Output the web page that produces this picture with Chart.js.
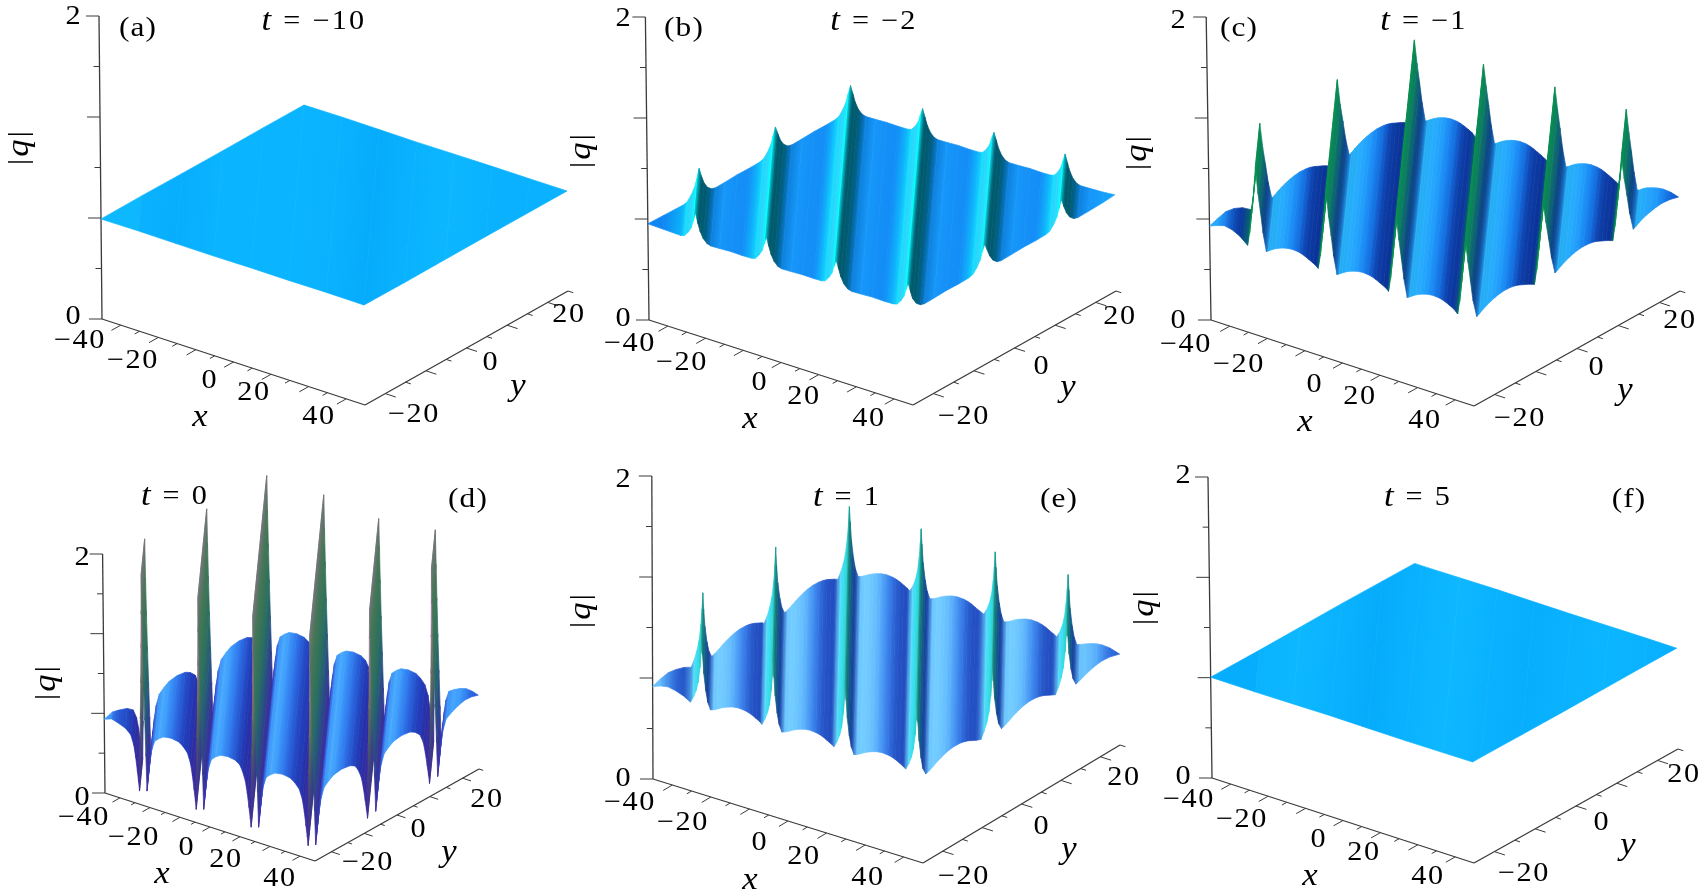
<!DOCTYPE html>
<html>
<head>
<meta charset="utf-8">
<title>|q| surfaces</title>
<script src="https://cdn.jsdelivr.net/npm/chart.js@4"></script>
<style>
  html, body { margin: 0; background: #fff; width: 1701px; height: 896px; overflow: hidden; }
  canvas { position: absolute; }
</style>
</head>
<body>
<script>
// Axis values
const xTicks = [-35, -30, -25, -20, -15, -10, -5, 0, 5, 10, 15, 20, 25, 30, 35];
const yTicks = [-25, -20, -15, -10, -5, 0, 5, 10, 15, 20, 25];
const zTicks = [0, 1 / 3, 2 / 3, 1, 4 / 3, 5 / 3, 2];
const xTickLabels = ['\u221240', '\u221220', '0', '20', '40'];
const yTickLabels = ['\u221220', '0', '20'];
const zTickLabels = ['0', '2'];
const panelTags = ['(a)', '(b)', '(c)', '(d)', '(e)', '(f)'];
const timeLabels = ['\u221210', '\u22122', '\u22121', '0', '1', '5'];

// |q| along s = x + y
const sA = [-60, -50, -40, -30, -20, -10, 0, 10, 20, 30, 40, 50, 60];
const qA = [.66, .662, .66, .659, .661, .66, .662, .66, .658, .66, .661, .66, .66];

const sB = [-60, -56,
  -51.3, -50.3, -49.3, -48.5, -47.9, -47.3, -46.7, -46.1, -45.3, -44.3, -43.3, -41, -38, -35,
  -32.5, -31.5, -30.5, -29.7, -29.1, -28.5, -27.9, -27.3, -26.5, -25.5, -24.5, -22, -19, -16,
  -14, -13, -12, -11.2, -10.6, -10, -9.4, -8.8, -8, -7, -6, -3.5, -.5, 2.5,
  5.1, 6.1, 7.1, 7.9, 8.5, 9.1, 9.7, 10.3, 11.1, 12.1, 13.1, 15.5, 18.5, 21.5,
  24, 25, 26, 26.8, 27.4, 28, 28.6, 29.2, 30, 31, 32, 34.5, 37.5, 40.5,
  42.9, 43.9, 44.9, 45.7, 46.3, 46.9, 47.5, 48.1, 48.9, 49.9, 50.9, 53.5, 57, 60];
const qB = [.635, .632,
  .628, .635, .665, .70, .75, .81, .745, .695, .655, .63, .622, .624, .628, .626,
  .628, .635, .665, .70, .75, .80, .745, .695, .655, .63, .622, .624, .628, .626,
  .628, .635, .665, .70, .75, .795, .745, .695, .655, .63, .622, .624, .628, .626,
  .628, .635, .665, .70, .75, .796, .745, .695, .655, .63, .622, .624, .628, .626,
  .628, .635, .665, .70, .75, .79, .745, .695, .655, .63, .622, .624, .628, .626,
  .628, .635, .665, .70, .75, .80, .745, .695, .655, .63, .622, .624, .628, .635];

const sC = [-60, -58, -56, -54, -52,
  -49.9, -49.3, -48.7, -48.1, -47.5, -46.9, -46.3, -45.7, -44.9, -44.3, -43.5, -42.5, -41.5, -40.5, -39.5, -38.1, -36.5, -35.5, -34.5, -33.5, -32.5, -31.5,
  -31.1, -30.5, -29.9, -29.3, -28.7, -28.1, -27.5, -26.9, -26.1, -25.5, -24.7, -23.7, -22.7, -21.7, -20.7, -19.3, -17.7, -16.7, -15.7, -14.7, -13.7, -12.7,
  -12.4, -11.8, -11.2, -10.6, -10, -9.4, -8.8, -8.2, -7.4, -6.8, -6, -5, -4, -3, -2, -.6, 1, 2, 3, 4, 5,
  6, 6.6, 7.2, 7.8, 8.4, 9, 9.6, 10.2, 11, 11.6, 12.4, 13.4, 14.4, 15.4, 16.4, 17.8, 19.4, 20.4, 21.4, 22.4, 23.4, 24.4,
  25, 25.6, 26.2, 26.8, 27.4, 28, 28.6, 29.2, 30, 30.6, 31.4, 32.4, 33.4, 34.4, 35.4, 36.8, 38.4, 39.4, 40.4, 41.4, 42.4, 43.4,
  44, 44.6, 45.2, 45.8, 46.4, 47, 47.6, 48.2, 49, 49.6, 50.4, 51.5, 53, 54.5, 56, 58, 60];
const qC = [.62, .64, .655, .645, .62,
  .575, .66, .79, .93, 1.108, .94, .82, .69, .575, .583, .597, .612, .624, .633, .64, .645, .642, .636, .626, .613, .60, .585,
  .575, .66, .79, .93, 1.112, .94, .82, .69, .575, .583, .597, .612, .624, .633, .64, .645, .642, .636, .626, .613, .60, .585,
  .575, .66, .79, .93, 1.09, .94, .82, .69, .575, .583, .597, .612, .624, .633, .64, .645, .642, .636, .626, .613, .60,
  .575, .66, .79, .93, 1.08, .94, .82, .69, .575, .583, .597, .612, .624, .633, .64, .645, .642, .636, .626, .613, .60, .585,
  .575, .66, .79, .93, 1.083, .94, .82, .69, .575, .583, .597, .612, .624, .633, .64, .645, .642, .636, .626, .613, .60, .585,
  .575, .66, .79, .93, 1.09, .94, .82, .69, .575, .583, .597, .612, .625, .635, .64, .635, .62];

const sD = [-60, -57.5, -55.5, -53,
  -51.2, -50.2, -49.6, -49.1, -48.7, -48.45, -48.2, -47.95, -47.7, -47.5, -47.35, -47.2, -47.05, -46.9, -46.7, -46.45, -46.2, -45.95, -45.7, -45.3, -44.8, -44.2, -43.2, -41.7, -40.2, -37.75, -35.3, -33.8,
  -32.3, -31.3, -30.7, -30.2, -29.8, -29.55, -29.3, -29.05, -28.8, -28.6, -28.45, -28.3, -28.15, -28, -27.8, -27.55, -27.3, -27.05, -26.8, -26.4, -25.9, -25.3, -24.3, -22.8, -21.3, -18.85, -16.4, -14.9,
  -14, -13, -12.4, -11.9, -11.5, -11.25, -11, -10.75, -10.5, -10.3, -10.15, -10, -9.85, -9.7, -9.5, -9.25, -9, -8.75, -8.5, -8.1, -7.6, -7, -6, -4.5, -3, -.55, 1.9, 3.4,
  5, 6, 6.6, 7.1, 7.5, 7.75, 8, 8.25, 8.5, 8.7, 8.85, 9, 9.15, 9.3, 9.5, 9.75, 10, 10.25, 10.5, 10.9, 11.4, 12, 13, 14.5, 16, 18.45, 20.9, 22.4,
  23.3, 24.3, 24.9, 25.4, 25.8, 26.05, 26.3, 26.55, 26.8, 27, 27.15, 27.3, 27.45, 27.6, 27.8, 28.05, 28.3, 28.55, 28.8, 29.2, 29.7, 30.3, 31.3, 32.8, 34.3, 36.75, 39.2, 40.7,
  42.2, 43.2, 43.8, 44.3, 44.7, 44.95, 45.2, 45.45, 45.7, 45.9, 46.05, 46.2, 46.35, 46.5, 46.7, 46.95, 47.2, 47.45, 47.7, 48.1, 48.6, 49.2, 50.2, 52, 54, 56, 58, 60];
const qD = [.618, .64, .625, .6,
  .56, .48, .38, .27, .18, .11, .42, .72, 1.02, 1.32, 1.6, 1.93, 1.6, 1.32, 1.02, .72, .42, .13, .2, .29, .39, .49, .57, .605, .63, .64, .63, .605,
  .56, .48, .38, .27, .18, .11, .42, .72, 1.02, 1.32, 1.6, 1.89, 1.6, 1.32, 1.02, .72, .42, .13, .2, .29, .39, .49, .57, .605, .63, .64, .63, .605,
  .56, .48, .38, .27, .18, .11, .42, .72, 1.02, 1.32, 1.6, 1.886, 1.6, 1.32, 1.02, .72, .42, .13, .2, .29, .39, .49, .57, .605, .63, .64, .63, .605,
  .56, .48, .38, .27, .18, .11, .42, .72, 1.02, 1.32, 1.6, 1.88, 1.6, 1.32, 1.02, .72, .42, .13, .2, .29, .39, .49, .57, .605, .63, .64, .63, .605,
  .56, .48, .38, .27, .18, .11, .42, .72, 1.02, 1.32, 1.6, 1.83, 1.6, 1.32, 1.02, .72, .42, .13, .2, .29, .39, .49, .57, .605, .63, .64, .63, .605,
  .56, .48, .38, .27, .18, .11, .42, .72, 1.02, 1.32, 1.6, 1.89, 1.6, 1.32, 1.02, .72, .42, .13, .2, .29, .39, .49, .57, .6, .625, .64, .635, .618];

const sE = [-60, -58, -56, -54, -52,
  -50.2, -49.4, -48.7, -48.2, -47.7, -47.4, -47.2, -47, -46.7, -46.2, -45.7, -45, -44.2, -43.2, -42.2, -41.2, -40.2, -39.2, -37.8, -36.2, -35.2, -34.2, -33.2, -32.2,
  -31.7, -30.9, -30.2, -29.7, -29.2, -28.9, -28.7, -28.5, -28.2, -27.7, -27.2, -26.5, -25.7, -24.7, -23.7, -22.7, -21.7, -20.7, -19.3, -17.7, -16.7, -15.7, -14.7, -13.7,
  -13, -12.2, -11.5, -11, -10.5, -10.2, -10, -9.8, -9.5, -9, -8.5, -7.8, -7, -6, -5, -4, -3, -2, -.6, 1, 2, 3, 4, 5,
  5.6, 6.4, 7.1, 7.6, 8.1, 8.4, 8.6, 8.8, 9.1, 9.6, 10.1, 10.8, 11.6, 12.6, 13.6, 14.6, 15.6, 16.6, 18, 19.6, 20.6, 21.6, 22.6, 23.6,
  24.8, 25.6, 26.3, 26.8, 27.3, 27.6, 27.8, 28, 28.3, 28.8, 29.3, 30, 30.8, 31.8, 32.8, 33.8, 34.8, 35.8, 37.2, 38.8, 39.8, 40.8, 41.8, 42.8,
  43.7, 44.5, 45.2, 45.7, 46.2, 46.5, 46.7, 46.9, 47.2, 47.7, 48.2, 48.9, 49.8, 51, 52.5, 54, 55.5, 57.5, 60];
const qE = [.61, .63, .64, .63, .612,
  .585, .625, .675, .73, .83, .93, 1.03, .92, .8, .69, .62, .575, .582, .595, .61, .622, .632, .64, .645, .642, .636, .626, .612, .598,
  .585, .625, .675, .73, .83, .93, 1.044, .92, .8, .69, .62, .575, .582, .595, .61, .622, .632, .64, .645, .642, .636, .626, .612, .598,
  .585, .625, .675, .73, .83, .93, 1.02, .92, .8, .69, .62, .575, .582, .595, .61, .622, .632, .64, .645, .642, .636, .626, .612, .598,
  .585, .625, .675, .73, .83, .93, 1.02, .92, .8, .69, .62, .575, .582, .595, .61, .622, .632, .64, .645, .642, .636, .626, .612, .598,
  .585, .625, .675, .73, .83, .93, 1.02, .92, .8, .69, .62, .575, .582, .595, .61, .622, .632, .64, .645, .642, .636, .626, .612, .598,
  .585, .625, .675, .73, .83, .93, 1.02, .92, .8, .69, .62, .575, .582, .596, .61, .62, .625, .62, .60];

const sF = [-60, -48, -38, -28, -18, -8, 2, 12, 22, 32, 42, 52, 60];
const qF = [.67, .668, .67, .672, .67, .668, .67, .672, .67, .669, .67, .671, .67];

// Colours: stops of [slope of |q| along s, r, g, b]
const flatStops = [[-.0002, 6, 172, 252], [0, 10, 178, 255], [.0002, 14, 184, 255]];
const stopsB = [[-.05, 0, 90, 110], [-.02, 0, 95, 130], [-.008, 5, 110, 190], [-.002, 10, 125, 235], [0, 20, 140, 248], [.002, 25, 160, 252], [.005, 10, 215, 255], [.012, 0, 250, 255], [.04, 60, 200, 250], [.08, 0, 255, 255]];
const stopsC = [[-.14, 12, 60, 140], [-.015, 10, 50, 150], [-.01, 15, 70, 180], [-.004, 20, 110, 225], [0, 25, 130, 240], [.004, 30, 150, 250], [.012, 40, 175, 255], [.05, 10, 150, 150], [.1, 5, 150, 75]];
const stopsD = [[-.25, 60, 40, 155], [-.08, 35, 50, 170], [-.03, 35, 60, 190], [-.017, 35, 70, 190], [-.004, 40, 100, 225], [0, 45, 120, 240], [.004, 55, 145, 250], [.02, 75, 175, 255], [.05, 60, 150, 250], [.1, 45, 110, 235], [.2, 50, 60, 190], [.28, 70, 40, 160]];
const stopsE = [[-.5, 20, 130, 120], [-.3, 15, 110, 125], [-.15, 20, 70, 150], [-.06, 25, 60, 165], [-.012, 35, 80, 195], [-.004, 50, 115, 225], [0, 65, 140, 245], [.004, 85, 170, 250], [.013, 115, 205, 255], [.05, 110, 215, 255], [.08, 50, 225, 240], [.2, 45, 215, 220], [.5, 40, 185, 170]];
// steep faces are coloured by height: stops of [|q|, r, g, b]
const fallC = [[.63, 12, 55, 145], [.755, 12, 75, 130], [.88, 15, 110, 110], [1.015, 10, 135, 85]];
const spikeUp = [[.1, 70, 35, 150], [.5, 55, 80, 120], [.9, 90, 110, 80], [1.2, 135, 115, 130], [1.9, 155, 115, 165]];
const spikeDown = [[.1, 70, 35, 150], [.45, 40, 60, 150], [.8, 35, 105, 110], [1.2, 50, 115, 85], [1.9, 90, 120, 90]];

// Where each panel sits on the page and how its 3D box projects: origin, x, y, |q| edge vectors
const panels = [
  { s: sA, q: qA, stops: flatStops, box: [0, 0, 595, 445], o: [102, 319], ex: [263, 86], ey: [203, -114], ez: [-3, -303],
    tag: [138, 29], time: [314, 22], z: [[73, 317], [73, 17]], qLab: [20, 147], xLab: [200, 418], yLab: [518, 387],
    xPos: [[80, 341], [133, 361], [210, 381], [254, 393], [319, 417]], yPos: [[414, 415], [491, 363], [569, 315]] },
  { s: sB, q: qB, stops: stopsB, box: [565, 0, 590, 445], o: [649, 320], ex: [264, 85], ey: [203, -114], ez: [-3.6, -303],
    tag: [684, 29], time: [874, 22], z: [[623, 319], [623, 19]], qLab: [582, 150], xLab: [750, 420], yLab: [1068, 388],
    xPos: [[630, 344], [682, 363], [760, 383], [804, 397], [869, 419]], yPos: [[964, 417], [1042, 367], [1120, 317]] },
  { s: sC, q: qC, stops: stopsC, fall: fallC, box: [1125, 0, 576, 445], o: [1211, 320], ex: [263, 86], ey: [206, -115], ez: [-4.8, -303],
    tag: [1239, 29], time: [1424, 22], z: [[1178, 321], [1178, 21]], qLab: [1138, 152], xLab: [1305, 423], yLab: [1625, 391],
    xPos: [[1186, 345], [1239, 365], [1315, 385], [1360, 397], [1425, 421]], yPos: [[1520, 419], [1597, 368], [1680, 321]] },
  { s: sD, q: qD, stops: stopsD, spikes: true, box: [0, 445, 545, 451], o: [105, 793], ex: [210, 68], ey: [164, -92], ez: [-2.4, -239],
    tag: [468, 500], time: [175, 497], z: [[82, 798], [82, 558]], qLab: [47, 682], xLab: [162, 875], yLab: [449, 853],
    xPos: [[84, 818], [134, 838], [187, 848], [226, 860], [280, 879]], yPos: [[368, 863], [419, 830], [487, 800]] },
  { s: sE, q: qE, stops: stopsE, box: [565, 445, 590, 451], o: [653, 779], ex: [270, 84], ey: [197, -118], ez: [-1.2, -303],
    tag: [1059, 500], time: [847, 498], z: [[623, 779], [623, 480]], qLab: [582, 610], xLab: [750, 881], yLab: [1069, 850],
    xPos: [[630, 803], [683, 823], [760, 843], [804, 857], [868, 878]], yPos: [[964, 877], [1042, 827], [1124, 778]] },
  { s: sF, q: qF, stops: flatStops, box: [1125, 445, 576, 451], o: [1212, 778], ex: [262, 85], ey: [204, -114], ez: [-4, -301],
    tag: [1629, 500], time: [1418, 498], z: [[1183, 777], [1183, 476]], qLab: [1145, 607], xLab: [1310, 877], yLab: [1628, 846],
    xPos: [[1189, 800], [1242, 820], [1319, 840], [1364, 853], [1428, 877]], yPos: [[1524, 874], [1602, 823], [1684, 775]] }
];

const X_MIN = -35, X_MAX = 35, Y_MIN = -25, Y_MAX = 25;
const AXIS_COLOR = '#3a3a3a';

function project(p, x, y, q) {
  const u = (x - X_MIN) / (X_MAX - X_MIN), v = (y - Y_MIN) / (Y_MAX - Y_MIN);
  return {
    x: p.o[0] + u * p.ex[0] + v * p.ey[0] + q / 2 * p.ez[0],
    y: p.o[1] + u * p.ex[1] + v * p.ey[1] + q / 2 * p.ez[1]
  };
}

function fromStops(stops, v) {
  if (v <= stops[0][0]) return stops[0].slice(1);
  for (let i = 1; i < stops.length; i++) {
    if (v <= stops[i][0]) {
      const a = stops[i - 1], b = stops[i], t = (v - a[0]) / (b[0] - a[0]);
      return [a[1] + t * (b[1] - a[1]), a[2] + t * (b[2] - a[2]), a[3] + t * (b[3] - a[3])];
    }
  }
  return stops[stops.length - 1].slice(1);
}

// Colour of strip i from its slope, or its height on steep faces
function stripRgb(p, i) {
  const slope = (p.q[i + 1] - p.q[i]) / (p.s[i + 1] - p.s[i]);
  const mid = (p.q[i] + p.q[i + 1]) / 2;
  if (p.spikes && Math.abs(slope) > .4) return fromStops(slope > 0 ? spikeUp : spikeDown, mid);
  if (p.fall && slope < -.1) return fromStops(p.fall, mid);
  return fromStops(p.stops, slope);
}

const mix = (a, b) => a.map((v, k) => (v + b[k]) / 2);
const css = c => 'rgb(' + c.map(Math.round).join(',') + ')';

// Iso-lines x + y = s meet the box edges here
const lowerEnd = s => s <= 10 ? [s + 25, Y_MIN] : [X_MAX, s - 35];
const upperEnd = s => s <= -10 ? [X_MIN, s + 35] : [s - 25, Y_MAX];

function surfaceDatasets(p) {
  const out = [];
  const last = p.s.length - 2;
  for (let i = 0; i <= last; i++) {
    const s1 = p.s[i], s2 = p.s[i + 1], q1 = p.q[i], q2 = p.q[i + 1];
    const qAt = s => q1 + (q2 - q1) * (s - s1) / (s2 - s1);
    const pts = [];
    const add = (e, q) => pts.push(project(p, e[0], e[1], q));
    add(lowerEnd(s1), q1);
    if (s1 < 10 && s2 > 10) add([X_MAX, Y_MIN], qAt(10));
    const nextIndex = pts.length;
    add(lowerEnd(s2), q2);
    add(upperEnd(s2), q2);
    if (s1 < -10 && s2 > -10) add([X_MIN, Y_MAX], qAt(-10));
    add(upperEnd(s1), q1);
    const own = stripRgb(p, i);
    out.push({
      data: pts, surface: true, showLine: false, pointRadius: 0, nextIndex,
      startColor: css(i > 0 ? mix(stripRgb(p, i - 1), own) : own),
      endColor: css(i < last ? mix(own, stripRgb(p, i + 1)) : own),
      midColor: css(own)
    });
  }
  return out;
}

function lineSet(a, b, width) {
  return { data: [a, b], showLine: true, borderColor: AXIS_COLOR, borderWidth: width, pointRadius: 0 };
}

function axisDatasets(p) {
  const out = [];
  out.push(lineSet(project(p, X_MIN, Y_MIN, 0), project(p, X_MAX, Y_MIN, 0), 1.3));
  out.push(lineSet(project(p, X_MAX, Y_MIN, 0), project(p, X_MAX, Y_MAX, 0), 1.3));
  out.push(lineSet(project(p, X_MIN, Y_MIN, 0), project(p, X_MIN, Y_MIN, 2), 1.3));
  xTicks.slice(1, -1).forEach((x, i) => {
    const len = i % 2 === 0 ? 2.3 : 1.2;
    out.push(lineSet(project(p, x, Y_MIN, 0), project(p, x, Y_MIN - len, 0), 1));
  });
  yTicks.slice(1).forEach((y, i) => {
    const len = i % 2 === 0 ? 2.8 : 1.4;
    out.push(lineSet(project(p, X_MAX, y, 0), project(p, X_MAX + len, y, 0), 1));
  });
  zTicks.forEach((z, i) => {
    const a = project(p, X_MIN, Y_MIN, z);
    const len = i % 2 === 0 ? 13 : 6;
    out.push(lineSet(a, { x: a.x - len, y: a.y }, 1));
  });
  return out;
}

const ROMAN = '27px "Liberation Serif"';
const TAG = '28px "Liberation Serif"';
const ITALIC = 'italic 31px "Liberation Serif"';
const STRETCH = 1.12; // the digits in the figure are wider than Liberation's

// Draws runs of [text, font] centred on x, y
function drawRuns(ctx, runs, x, y, spacing, angle) {
  ctx.save();
  ctx.translate(x, y);
  if (angle) ctx.rotate(angle);
  ctx.scale(STRETCH, 1);
  ctx.textAlign = 'left';
  ctx.textBaseline = 'middle';
  ctx.fillStyle = '#000';
  ctx.letterSpacing = spacing + 'px';
  let width = 0;
  runs.forEach(r => { ctx.font = r[1]; width += ctx.measureText(r[0]).width; });
  let cx = -width / 2;
  runs.forEach(r => {
    ctx.font = r[1];
    ctx.fillText(r[0], cx, 0);
    cx += ctx.measureText(r[0]).width;
  });
  ctx.restore();
}

const surfacePlugin = {
  id: 'surfacePolygons',
  beforeDatasetDraw(chart, args) {
    const ds = chart.data.datasets[args.index];
    if (!ds.surface) return;
    const ctx = chart.ctx, pts = args.meta.data;

    // gradient runs across the strip, square to its iso-lines
    const a = pts[0], b = pts[ds.nextIndex], up = pts[pts.length - 1];
    const ux = up.x - a.x, uy = up.y - a.y, n = Math.hypot(ux, uy) || 1;
    const nx = -uy / n, ny = ux / n;
    const d = (b.x - a.x) * nx + (b.y - a.y) * ny;
    let paint = ds.midColor;
    if (Math.abs(d) > .2) {
      paint = ctx.createLinearGradient(a.x, a.y, a.x + nx * d, a.y + ny * d);
      paint.addColorStop(0, ds.startColor);
      paint.addColorStop(1, ds.endColor);
    }
    ctx.save();
    ctx.beginPath();
    pts.forEach((pt, i) => i ? ctx.lineTo(pt.x, pt.y) : ctx.moveTo(pt.x, pt.y));
    ctx.closePath();
    ctx.fillStyle = paint;
    ctx.strokeStyle = paint;
    ctx.lineWidth = .7;
    ctx.fill();
    ctx.stroke();
    ctx.restore();
  }
};

const textPlugin = {
  id: 'panelText',
  afterDatasetsDraw(chart, args, opts) {
    const ctx = chart.ctx, i = opts.index, p = panels[i];
    const sx = v => chart.scales.x.getPixelForValue(v), sy = v => chart.scales.y.getPixelForValue(v);
    const put = (runs, at, spacing, angle) => drawRuns(ctx, runs, sx(at[0]), sy(at[1]), spacing, angle);
    put([[panelTags[i], TAG]], p.tag, 1);
    put([['t', ITALIC], [' = ' + timeLabels[i], ROMAN]], p.time, 2);
    zTickLabels.forEach((t, k) => put([[t, ROMAN]], p.z[k], 0));
    xTickLabels.forEach((t, k) => put([[t, ROMAN]], p.xPos[k], 1.5));
    yTickLabels.forEach((t, k) => put([[t, ROMAN]], p.yPos[k], 1.5));
    put([['x', ITALIC]], p.xLab, 0);
    put([['y', ITALIC]], p.yLab, 0);
    put([['|', ROMAN], ['q', ITALIC], ['|', ROMAN]], p.qLab, 2, -Math.PI / 2);
  }
};

panels.forEach((p, index) => {
  const canvas = document.createElement('canvas');
  canvas.width = p.box[2];
  canvas.height = p.box[3];
  canvas.style.left = p.box[0] + 'px';
  canvas.style.top = p.box[1] + 'px';
  document.body.appendChild(canvas);

  // Chart.js paints the last dataset first: axes at the back, then strips by rising s
  const datasets = axisDatasets(p).concat(surfaceDatasets(p)).reverse();
  new Chart(canvas.getContext('2d'), {
    type: 'scatter',
    data: { datasets },
    plugins: [surfacePlugin, textPlugin],
    options: {
      responsive: false,
      animation: false,
      events: [],
      layout: { padding: 0 },
      plugins: { legend: { display: false }, tooltip: { enabled: false }, panelText: { index } },
      scales: {
        x: { type: 'linear', display: false, min: p.box[0], max: p.box[0] + p.box[2] },
        y: { type: 'linear', display: false, min: p.box[1], max: p.box[1] + p.box[3], reverse: true }
      }
    }
  });
});
</script>
</body>
</html>
